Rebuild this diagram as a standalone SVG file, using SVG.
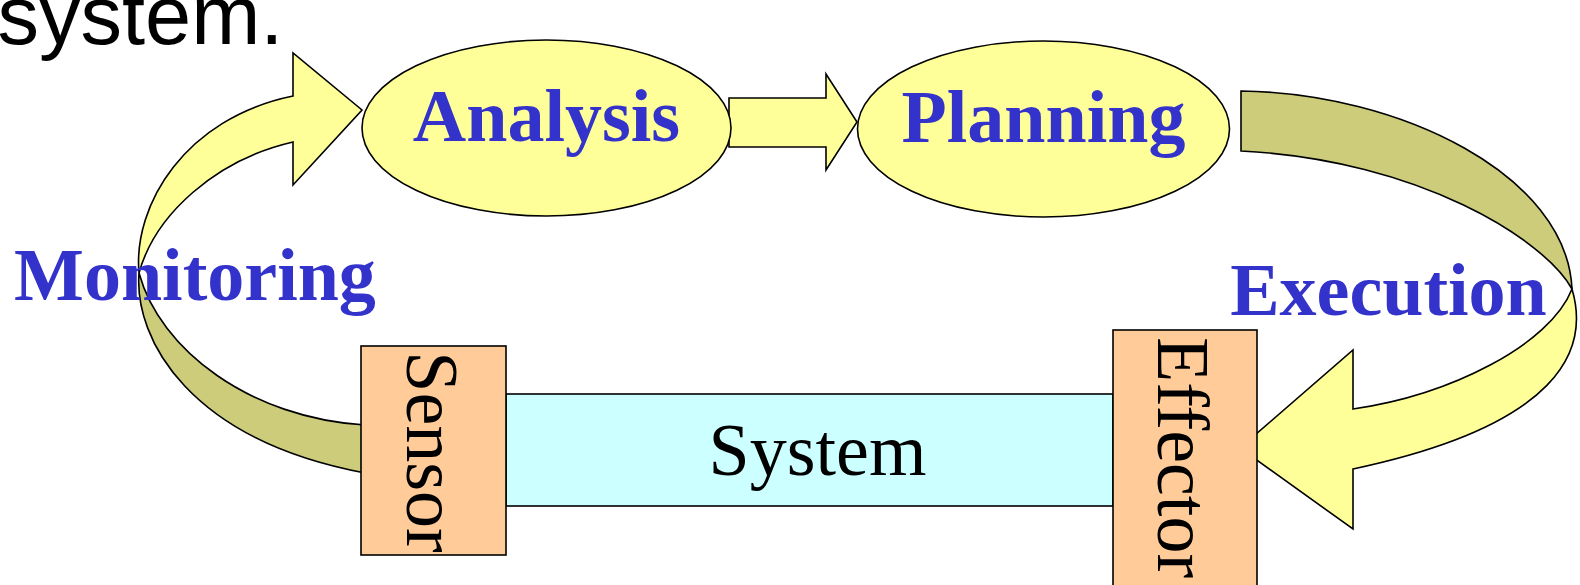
<svg xmlns="http://www.w3.org/2000/svg" width="1580" height="585" viewBox="0 0 1580 585">
  <style>
    .light { fill: #FFFF99; stroke: #000; stroke-width: 1.6; stroke-linejoin: miter; }
    .dark { fill: #CCCC7A; stroke: #000; stroke-width: 1.6; }
    .box { fill: #FFCC99; stroke: #000; stroke-width: 1.6; }
    .sys { fill: #CCFFFF; stroke: #000; stroke-width: 1.6; }
    .phase { font-family: "Liberation Serif", "Times New Roman", serif; font-weight: bold; font-size: 74px; fill: #3333CC; }
    .plain { font-family: "Liberation Serif", "Times New Roman", serif; font-size: 74px; fill: #000; }
    .title { font-family: "Liberation Sans", Arial, sans-serif; font-size: 83px; fill: #000; }
  </style>
  <rect width="1580" height="585" fill="#fff"/>
  <text class="title" x="-2.5" y="44">system.</text>

  <g id="connectors">
    <!-- Monitoring ribbon (left) -->
    <path class="dark" d="M 139,273 C 134,340 190,440 365,473 L 365,425 C 250,418 160,350 139,273 Z"/>
    <path class="light" d="M 139,273 C 133,205 185,118 293,96 L 293,53 L 362,110 L 293,185 L 293,142 C 215,160 155,215 139,273 Z"/>
    <!-- Analysis to Planning -->
    <path class="light" d="M 729,98 L 826,98 L 826,74 L 857,122 L 826,170 L 826,147 L 729,147 Z"/>
    <!-- Execution ribbon (right) -->
    <path class="dark" d="M 1241,91 C 1400,93 1567,175 1572,289 C 1545,240 1420,160 1241,151 Z"/>
    <path class="light" d="M 1572,289 C 1590,350 1560,425 1353,469 L 1353,529 L 1240,448 L 1353,350 L 1353,409 C 1450,395 1550,345 1572,289 Z"/>
  </g>

  <g id="label-monitoring">
    <text class="phase" x="195" y="300" text-anchor="middle">Monitoring</text>
  </g>
  <g id="label-execution">
    <text class="phase" x="1388.5" y="315" text-anchor="middle">Execution</text>
  </g>

  <g id="analysis">
    <ellipse class="light" cx="546.5" cy="128" rx="184.5" ry="88"/>
    <text class="phase" x="546.5" y="141" text-anchor="middle">Analysis</text>
  </g>
  <g id="planning">
    <ellipse class="light" cx="1043.5" cy="129" rx="186" ry="88"/>
    <text class="phase" x="1043.5" y="142" text-anchor="middle">Planning</text>
  </g>

  <g id="system">
    <rect class="sys" x="506" y="394" width="607" height="112"/>
    <text class="plain" x="817.5" y="475" text-anchor="middle">System</text>
  </g>
  <g id="sensor">
    <rect class="box" x="361" y="346" width="145" height="209"/>
    <text class="plain" transform="translate(407,452) rotate(90)" text-anchor="middle">Sensor</text>
  </g>
  <g id="effector">
    <rect class="box" x="1113" y="330" width="144" height="260"/>
    <text class="plain" transform="translate(1158,337) rotate(90)">Effector</text>
  </g>
</svg>
